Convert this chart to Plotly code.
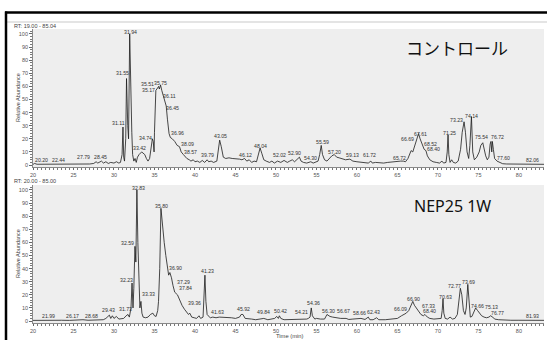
import plotly.graph_objects as go
from plotly.subplots import make_subplots

# ---------------- data: control chromatogram ----------------
ctrl_t = [20.0, 20.2, 20.5, 21.5, 22.44, 23.0, 24.0, 25.0, 26.0, 27.0, 27.5, 27.79, 28.0, 28.2, 28.45, 28.7,
          29.0, 29.3, 29.6, 30.0, 30.3, 30.6, 30.8, 31.0, 31.11, 31.2, 31.3, 31.45, 31.55, 31.7, 31.8, 31.94,
          32.05, 32.2, 32.3, 32.45, 32.6, 32.75, 32.9, 33.1, 33.42, 33.6, 33.8, 34.0, 34.2, 34.4, 34.6, 34.74,
          34.85, 34.95, 35.0, 35.1, 35.17, 35.3, 35.51, 35.6, 35.75, 35.9, 36.11, 36.3, 36.45, 36.6, 36.8,
          36.96, 37.2, 37.5, 37.8, 38.09, 38.3, 38.57, 38.8, 39.0, 39.3, 39.5, 39.79, 40.0, 40.3, 40.6, 40.9,
          41.2, 41.5, 41.7, 42.0, 42.3, 42.7, 42.85, 43.05, 43.25, 43.5, 43.8, 44.2, 44.6, 45.0, 45.5, 45.8,
          46.12, 46.4, 46.7, 47.0, 47.3, 47.6, 47.85, 48.04, 48.25, 48.5, 48.8, 49.2, 49.5, 49.8, 50.2, 50.6,
          51.0, 51.4, 51.7, 52.02, 52.3, 52.6, 52.9, 53.1, 53.4, 53.8, 54.0, 54.3, 54.6, 54.9, 55.2, 55.4,
          55.59, 55.75, 56.0, 56.3, 56.6, 56.9, 57.2, 57.5, 57.8, 58.2, 58.6, 59.13, 59.5, 60.0, 60.5, 61.0,
          61.4, 61.72, 61.9, 62.3, 62.8, 63.3, 63.8, 64.4, 65.0, 65.4, 65.72, 66.0, 66.3, 66.5, 66.69, 66.9,
          67.1, 67.4, 67.61, 67.8, 68.1, 68.3, 68.52, 68.7, 69.0, 69.4, 69.8, 70.2, 70.5, 70.7, 71.0, 71.15,
          71.25, 71.35, 71.5, 71.7, 71.9, 72.2, 72.5, 72.8, 73.0, 73.23, 73.4, 73.6, 73.8, 73.95, 74.14, 74.3,
          74.5, 74.8, 75.1, 75.3, 75.54, 75.7, 75.9, 76.1, 76.3, 76.45, 76.55, 76.65, 76.72, 76.85, 77.0,
          77.3, 77.6, 78.0, 78.5, 79.0, 80.0, 81.0, 82.06, 83.0, 84.0]
ctrl_y = [0.5, 1.2, 0.6, 0.6, 1.0, 0.5, 0.5, 0.6, 0.7, 0.8, 1.2, 2.5, 1.5, 2.0, 3.0, 1.5,
          2.5, 1.2, 2.0, 1.5, 2.5, 1.5, 2.0, 8.0, 29.0, 6.0, 3.0, 20.0, 66.0, 30.0, 20.0, 100.0,
          60.0, 25.0, 8.0, 3.0, 5.0, 2.0, 6.0, 8.0, 10.0, 9.0, 8.0, 5.0, 3.0, 5.0, 12.0, 20.0,
          18.0, 10.0, 25.0, 50.0, 57.0, 58.0, 60.0, 58.0, 61.0, 57.0, 53.0, 48.0, 45.0, 35.0, 24.0,
          21.0, 20.0, 18.0, 15.0, 14.0, 10.0, 8.0, 6.0, 5.0, 4.0, 3.0, 4.0, 2.5, 3.0, 2.0, 3.5,
          2.0, 4.0, 2.5, 3.0, 2.0, 3.0, 10.0, 19.0, 14.0, 6.0, 5.0, 5.5, 5.0, 5.0, 4.5, 4.0,
          5.0, 3.0, 4.0, 2.0, 3.0, 2.5, 8.0, 13.0, 9.0, 4.0, 3.0, 2.0, 3.0, 1.5, 3.0, 2.0,
          3.5, 2.0, 3.0, 4.0, 2.5, 4.0, 6.0, 3.0, 2.0, 1.5, 2.0, 2.5, 1.5, 2.0, 3.0, 8.0,
          15.0, 8.0, 4.0, 3.0, 5.0, 7.0, 8.0, 6.0, 5.5, 5.0, 4.0, 4.5, 3.0, 2.5, 2.0, 1.5,
          1.5, 3.0, 1.5, 2.0, 1.5, 1.5, 2.0, 2.5, 3.0, 3.0, 3.0, 2.5, 5.0, 9.0, 11.0, 10.0,
          14.0, 21.0, 24.0, 20.0, 15.0, 12.0, 11.0, 7.0, 4.0, 2.5, 2.0, 1.5, 3.0, 1.5, 2.0, 10.0,
          23.0, 8.0, 2.0, 4.0, 2.0, 1.5, 3.0, 12.0, 25.0, 33.0, 25.0, 10.0, 5.0, 15.0, 37.0, 10.0,
          4.0, 6.0, 10.0, 15.0, 17.0, 12.0, 7.0, 4.0, 6.0, 16.0, 18.0, 10.0, 18.0, 12.0, 5.0,
          3.0, 2.0, 1.0, 0.8, 0.8, 0.5, 0.6, 0.8, 0.5, 0.5]

# ---------------- data: NEP25 1W chromatogram ----------------
nep_t = [20.0, 21.0, 21.99, 22.5, 23.5, 24.5, 25.3, 26.17, 26.8, 27.5, 28.2, 28.68, 29.0, 29.2, 29.43, 29.6,
         29.8, 30.0, 30.3, 30.6, 30.9, 31.2, 31.5, 31.73, 31.9, 32.1, 32.23, 32.35, 32.45, 32.59, 32.7,
         32.83, 32.95, 33.1, 33.2, 33.33, 33.45, 33.6, 33.9, 34.2, 34.5, 34.8, 35.0, 35.2, 35.4, 35.5,
         35.65, 35.8, 35.95, 36.2, 36.4, 36.6, 36.75, 36.9, 37.1, 37.29, 37.5, 37.84, 38.1, 38.4, 38.7,
         39.0, 39.2, 39.36, 39.6, 39.9, 40.2, 40.5, 40.7, 41.0, 41.1, 41.23, 41.35, 41.5, 41.63, 41.9,
         42.2, 42.6, 43.0, 43.5, 44.0, 44.5, 45.0, 45.5, 45.7, 45.92, 46.2, 46.6, 47.0, 47.5, 48.0, 48.5,
         49.0, 49.5, 49.84, 50.1, 50.3, 50.42, 50.6, 51.0, 52.0, 53.0, 53.8, 54.0, 54.21, 54.36, 54.5,
         54.8, 55.0, 55.5, 56.0, 56.3, 56.5, 56.67, 57.0, 57.5, 58.0, 58.66, 59.0, 59.5, 60.0, 60.5, 61.0,
         61.4, 61.6, 62.0, 62.43, 62.7, 63.5, 64.0, 64.5, 65.0, 65.5, 65.8, 66.09, 66.4, 66.7, 66.9, 67.1,
         67.33, 67.6, 67.9, 68.2, 68.4, 68.7, 69.0, 69.5, 70.0, 70.4, 70.53, 70.63, 70.73, 70.9, 71.2,
         71.5, 71.8, 72.1, 72.4, 72.6, 72.77, 72.95, 73.15, 73.35, 73.5, 73.69, 73.85, 74.0, 74.2, 74.4,
         74.66, 74.9, 75.13, 75.4, 75.7, 76.0, 76.3, 76.5, 76.77, 77.0, 77.5, 78.0, 79.0, 80.0, 81.0,
         81.93, 83.0, 84.0]
nep_y = [0.5, 0.6, 1.0, 0.5, 0.6, 0.5, 0.8, 1.0, 0.6, 0.8, 0.8, 1.0, 2.0, 3.5, 4.5, 2.0,
         4.0, 2.0, 3.5, 1.5, 1.5, 2.0, 4.0, 5.0, 3.0, 10.0, 29.0, 10.0, 25.0, 57.0, 45.0,
         100.0, 60.0, 30.0, 10.0, 15.0, 6.0, 3.0, 2.5, 3.0, 5.0, 6.0, 4.0, 3.5, 8.0, 15.0,
         40.0, 86.0, 75.0, 60.0, 50.0, 40.0, 35.0, 37.0, 33.0, 27.0, 22.0, 20.0, 16.0, 12.0, 9.0,
         7.0, 5.0, 6.0, 3.0, 2.5, 2.0, 4.0, 2.0, 3.0, 15.0, 35.0, 15.0, 5.0, 4.0, 2.5,
         3.0, 2.5, 3.0, 3.0, 3.0, 2.5, 2.0, 3.0, 5.0, 5.0, 2.0, 1.5, 1.5, 1.0, 1.5, 2.0,
         1.0, 1.5, 2.0, 3.5, 2.0, 4.0, 2.0, 1.0, 1.0, 1.2, 1.5, 2.0, 3.0, 10.0, 4.0,
         1.5, 2.0, 1.5, 1.5, 5.0, 4.0, 3.5, 3.0, 2.5, 2.0, 2.0, 1.2, 1.5, 1.5, 2.0, 1.2,
         3.0, 1.0, 1.0, 2.5, 1.0, 1.0, 1.2, 1.5, 2.0, 4.0, 5.0, 6.0, 8.0, 12.0, 15.0, 12.0,
         10.0, 7.0, 5.0, 4.0, 5.0, 3.0, 2.0, 1.5, 1.5, 2.0, 8.0, 17.0, 6.0, 2.0, 1.5,
         3.0, 1.5, 2.0, 5.0, 15.0, 25.0, 20.0, 8.0, 5.0, 10.0, 28.0, 10.0, 3.0, 3.5, 6.0,
         10.0, 8.0, 6.0, 4.0, 3.0, 2.5, 3.0, 4.0, 3.0, 1.5, 1.0, 0.8, 0.6, 0.6, 0.5,
         0.8, 0.5, 0.5]

# ---------------- peak labels ----------------
ctrl_lab = ["20.20", "22.44", "27.79", "28.45", "31.11", "31.55", "31.94", "33.42", "34.74", "35.51",
            "35.17", "35.75", "36.11", "36.45", "36.96", "38.09", "38.57", "39.79", "43.05", "46.12",
            "48.04", "52.02", "52.90", "54.30", "55.59", "57.20", "59.13", "61.72", "65.72", "66.69",
            "67.61", "68.52", "68.40", "71.25", "73.23", "74.14", "75.54", "76.72", "77.60", "82.06"]
ctrl_lab_t = [21.1, 23.1, 26.2, 28.3, 30.5, 31.0, 32.0, 33.1, 33.9, 34.1,
              34.3, 35.8, 36.9, 37.2, 37.8, 39.1, 39.4, 41.6, 43.2, 46.2,
              48.1, 50.4, 52.3, 54.3, 55.7, 57.2, 59.4, 61.6, 65.2, 66.2,
              67.9, 69.1, 69.5, 71.4, 72.3, 74.2, 75.4, 77.4, 78.1, 81.7]
ctrl_lab_y = [3.8, 3.8, 6.5, 6.5, 32.0, 70.0, 101.5, 13.0, 21.0, 62.0,
              57.5, 62.5, 53.0, 43.5, 24.5, 16.0, 10.0, 7.5, 22.0, 8.0,
              14.5, 7.5, 9.0, 5.0, 17.5, 10.0, 7.5, 7.5, 5.5, 20.0,
              23.5, 16.0, 12.0, 24.5, 34.5, 37.5, 21.5, 21.5, 5.0, 4.0]

nep_lab = ["21.99", "26.17", "28.68", "29.43", "31.73", "32.23", "32.59", "32.83", "33.33", "35.80",
           "36.90", "37.29", "37.84", "39.36", "41.23", "41.63", "45.92", "49.84", "50.42", "54.21",
           "54.36", "56.30", "56.67", "58.66", "62.43", "66.09", "66.90", "67.33", "68.40", "70.63",
           "72.77", "73.69", "74.66", "75.13", "76.77", "81.93"]
nep_lab_t = [21.9, 24.9, 27.2, 29.3, 31.4, 31.5, 31.7, 33.0, 34.2, 35.9,
             37.6, 38.6, 38.8, 40.0, 41.5, 42.8, 46.0, 48.5, 50.5, 53.1,
             54.6, 56.5, 58.4, 60.3, 62.1, 65.4, 67.0, 68.8, 68.9, 70.9,
             72.0, 73.8, 74.9, 76.6, 77.4, 81.7]
nep_lab_y = [3.5, 3.5, 4.0, 8.5, 9.0, 31.0, 59.5, 101.5, 20.5, 88.0,
             40.5, 29.5, 25.5, 14.0, 38.0, 7.0, 9.0, 7.0, 8.0, 7.0,
             13.5, 8.0, 7.5, 6.0, 7.0, 9.0, 17.0, 11.5, 7.5, 18.0,
             26.5, 30.0, 11.5, 10.5, 6.0, 4.0]

x_ticks = [20, 25, 30, 35, 40, 45, 50, 55, 60, 65, 70, 75, 80]
y_ticks = [0, 10, 20, 30, 40, 50, 60, 70, 80, 90, 100]

# ---------------- figure ----------------
W, H = 547, 340
ML, MR, MT, MB = 33, 3, 29, 17
fig = make_subplots(rows=2, cols=1, vertical_spacing=0.0)

line_style = dict(color="#1a1a1a", width=0.8)
fig.add_trace(go.Scatter(x=ctrl_t, y=ctrl_y, mode="lines", line=line_style, hoverinfo="skip"), row=1, col=1)
fig.add_trace(go.Scatter(x=nep_t, y=nep_y, mode="lines", line=line_style, hoverinfo="skip"), row=2, col=1)

tick_font = dict(family="Liberation Sans, Arial, sans-serif", size=5.5, color="#555555")
xcommon = dict(range=[20, 83.1], tickvals=x_ticks, ticks="outside", ticklen=2.5, tickwidth=0.6,
               tickcolor="#666666", showline=True, linecolor="#888888", linewidth=0.8,
               showgrid=False, zeroline=False, tickfont=tick_font, showticklabels=True,
               minor=dict(ticks="outside", ticklen=1.6, dtick=0.5, tickcolor="#777777", tickwidth=0.5),
               fixedrange=True)
ycommon = dict(range=[-1.5, 103.8], tickvals=y_ticks, ticks="outside", ticklen=3, tickwidth=0.6,
               tickcolor="#666666", showline=True, linecolor="#888888", linewidth=0.8,
               showgrid=False, zeroline=False, tickfont=tick_font,
               minor=dict(ticks="outside", ticklen=1.8, dtick=2, tickcolor="#777777", tickwidth=0.5),
               fixedrange=True)

plot_h = H - MT - MB
top_dom = [(H - MB - 167) / plot_h, 1.0]
bot_dom = [0.0, (H - MB - 185) / plot_h]

fig.update_layout(
    width=W, height=H,
    margin=dict(l=ML, r=MR, t=MT, b=MB, pad=0),
    paper_bgcolor="white", plot_bgcolor="#eeeeee",
    showlegend=False,
    xaxis=dict(xcommon, anchor="y", ticklabelstandoff=0),
    xaxis2=dict(xcommon, anchor="y2", ticklabelstandoff=0),
    yaxis=dict(ycommon, domain=top_dom, anchor="x"),
    yaxis2=dict(ycommon, domain=bot_dom, anchor="x2"),
)

lab_font = dict(family="Liberation Sans, Arial, sans-serif", size=5.2, color="#333333")
for txt, t, y in zip(ctrl_lab, ctrl_lab_t, ctrl_lab_y):
    fig.add_annotation(x=t, y=y, xref="x", yref="y", text=txt, showarrow=False, font=lab_font,
                       xanchor="center", yanchor="middle")
for txt, t, y in zip(nep_lab, nep_lab_t, nep_lab_y):
    fig.add_annotation(x=t, y=y, xref="x2", yref="y2", text=txt, showarrow=False, font=lab_font,
                       xanchor="center", yanchor="middle")

def px_x(p):
    return (p - ML) / (W - ML - MR)

def px_y(p):
    return (H - MB - p) / plot_h

small = dict(family="Liberation Sans, Arial, sans-serif", size=5.5, color="#444444")
fig.add_annotation(x=px_x(12), y=px_y(25.5), xref="paper", yref="paper", text="RT: 19.00 - 85.04",
                   showarrow=False, font=small, xanchor="left", yanchor="middle")
fig.add_annotation(x=px_x(12), y=px_y(181), xref="paper", yref="paper", text="RT: 20.00 - 85.00",
                   showarrow=False, font=small, xanchor="left", yanchor="middle")
for yc in [(29 + 167) / 2, (185 + 323) / 2]:
    fig.add_annotation(x=px_x(18), y=px_y(yc), xref="paper", yref="paper", text="Relative Abundance",
                       showarrow=False, font=small, textangle=-90, xanchor="center", yanchor="middle")
fig.add_annotation(x=px_x(290), y=px_y(336), xref="paper", yref="paper", text="Time (min)",
                   showarrow=False, font=dict(small, size=5.8), xanchor="center", yanchor="middle")

fig.add_annotation(x=px_x(457), y=px_y(48), xref="paper", yref="paper", text="コントロール",
                   showarrow=False, font=dict(family="Noto Sans CJK JP", size=17, color="#111111"),
                   xanchor="center", yanchor="middle")
fig.add_annotation(x=px_x(452), y=px_y(206), xref="paper", yref="paper", text="NEP25 1W",
                   showarrow=False, font=dict(family="Noto Sans, Liberation Sans, sans-serif", size=16, color="#111111"),
                   xanchor="center", yanchor="middle")

# frame decorations
fig.add_shape(type="line", xref="paper", yref="paper", x0=px_x(5), x1=px_x(547), y0=px_y(22), y1=px_y(22),
              line=dict(color="#bbbbbb", width=0.8))
fig.add_shape(type="line", xref="paper", yref="paper", x0=px_x(5), x1=px_x(547), y0=px_y(12.5), y1=px_y(12.5),
              line=dict(color="black", width=2.5))
fig.add_shape(type="line", xref="paper", yref="paper", x0=px_x(6), x1=px_x(6), y0=px_y(11.5), y1=px_y(340),
              line=dict(color="black", width=2.5))

fig.write_html("out.html", config={"displayModeBar": False},
               post_script="document.body.style.margin='0px';document.body.style.overflow='hidden';")
